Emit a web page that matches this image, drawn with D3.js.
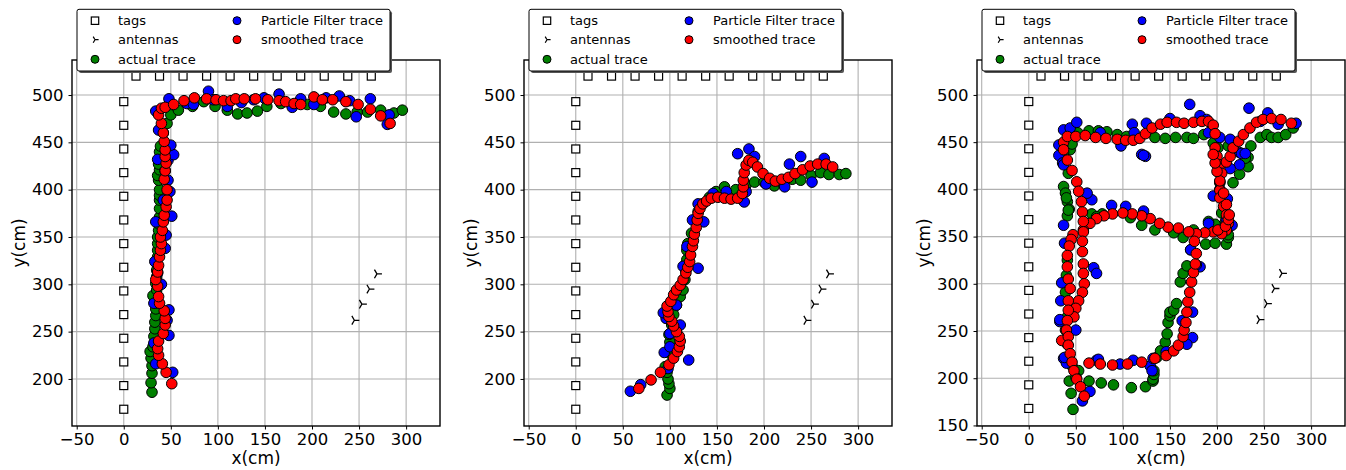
<!DOCTYPE html>
<html>
<head>
<meta charset="utf-8">
<script src="https://cdn.jsdelivr.net/npm/d3@7"></script>
<style>
  body { margin: 0; background: #fff; }
  svg { display: block; }
  text { font-family: "DejaVu Sans", sans-serif; fill: #000; }
</style>
</head>
<body>
<svg id="chart" width="1346" height="470"></svg>
<script>
// tag and antenna positions (cm)
const tagsLeftY = [168, 193, 218, 243, 268, 293, 318, 343, 368, 393, 418, 443, 468, 493];
const tagsTopX = [13, 38, 63, 88, 113, 138, 163, 188, 213, 238, 263];
const tagsTopY = 520;
const antennaX = [245, 253, 261, 269];
const antennaY = [262, 279, 295, 311];

const xTicks = [-50, 0, 50, 100, 150, 200, 250, 300];
const yTicks = [150, 200, 250, 300, 350, 400, 450, 500];

// panel 1
const actual1 = [[30,186],[29,196],[30,206],[30,214],[29,222],[28,229],[31,234],[32,245],[33,253],[33,260],[34,267],[34,274],[35,280],[31,288],[35,294],[34,301],[35,308],[35,315],[35,322],[36,329],[36,336],[36,343],[36,350],[37,357],[37,364],[38,371],[38,380],[38,389],[38,394],[38,400],[37,410],[36,415],[38,421],[37,427],[38,433],[38,440],[39,446],[42,460],[46,470],[50,479],[58,484],[73,488],[85,493],[97,488],[110,484],[121,480],[131,481],[142,483],[152,488],[167,491],[181,490],[195,490],[209,488],[223,482],[236,480],[248,482],[259,482],[273,484],[287,481],[296,484]];
const pf1 = [[52,207],[34,216],[32,238],[48,246],[46,262],[48,273],[32,280],[40,300],[36,312],[33,324],[44,338],[45,352],[34,366],[51,372],[42,389],[49,398],[47,410],[44,420],[47,431],[36,432],[53,437],[50,447],[37,463],[34,483],[48,496],[67,491],[74,490],[90,504],[95,495],[110,488],[125,492],[138,495],[149,497],[165,501],[179,487],[188,496],[202,490],[215,497],[229,499],[240,494],[247,477],[262,496],[280,469],[282,479]];
const smooth1 = [[51,195],[45,207],[41,216],[37,225],[36,232],[37,240],[42,248],[44,257],[44,264],[43,272],[38,280],[37,287],[36,298],[34,305],[36,313],[37,320],[38,329],[39,336],[40,343],[39,350],[41,357],[42,366],[43,373],[45,382],[46,389],[46,400],[43,411],[44,420],[45,428],[44,435],[44,442],[43,451],[42,460],[40,470],[37,479],[40,486],[44,487],[53,490],[64,494],[75,497],[88,496],[98,495],[106,494],[114,494],[119,496],[128,496],[140,496],[153,495],[165,494],[172,493],[181,491],[188,490],[202,498],[211,495],[222,495],[236,493],[249,490],[262,485],[273,478],[283,470]];

// panel 2
const actual2 = [[97,183],[100,190],[99,195],[98,200],[97,207],[95,213],[100,227],[100,239],[99,247],[102,257],[104,268],[107,278],[111,287],[114,294],[116,305],[117,315],[118,326],[118,336],[119,343],[123,354],[126,368],[130,377],[135,385],[142,392],[149,398],[158,403],[170,400],[181,405],[190,408],[200,408],[211,404],[220,406],[230,411],[239,410],[250,415],[260,418],[269,416],[280,416],[287,417]];
const pf2 = [[58,187],[69,194],[94,228],[100,234],[120,220],[98,211],[96,264],[93,270],[111,257],[100,248],[107,278],[114,319],[130,317],[118,340],[124,368],[136,366],[130,385],[146,396],[160,398],[179,387],[181,398],[172,438],[184,443],[190,435],[202,406],[222,403],[227,427],[239,435],[251,408],[264,433]];
const smooth2 = [[67,190],[80,199],[90,207],[99,215],[104,222],[108,229],[110,234],[111,240],[110,245],[107,250],[104,256],[102,261],[99,266],[98,271],[97,277],[101,282],[104,289],[107,294],[111,299],[114,305],[117,312],[119,318],[121,324],[122,331],[124,340],[125,346],[126,353],[128,360],[129,368],[130,375],[132,380],[135,385],[139,388],[144,391],[151,392],[158,391],[165,390],[172,391],[177,396],[178,403],[178,410],[179,418],[181,426],[184,431],[188,429],[193,424],[199,417],[206,412],[212,409],[219,411],[226,413],[233,417],[241,421],[249,425],[257,427],[266,427],[273,424]];

// panel 3
const actual3 = [[47,167],[45,184],[43,197],[64,197],[77,195],[90,193],[109,190],[124,191],[132,197],[132,199],[133,204],[133,208],[136,222],[140,229],[145,238],[147,247],[148,259],[150,266],[150,270],[154,272],[157,279],[161,302],[164,311],[168,319],[172,336],[188,342],[198,343],[210,342],[212,349],[198,363],[191,366],[175,357],[164,349],[154,354],[134,357],[120,362],[108,370],[78,374],[67,374],[72,371],[37,403],[39,396],[41,387],[43,379],[41,372],[44,442],[42,417],[40,391],[42,378],[41,325],[40,309],[39,291],[41,265],[39,251],[41,236],[42,222],[46,213],[53,208],[50,201],[37,439],[46,448],[52,460],[64,462],[74,462],[83,461],[94,458],[104,456],[134,455],[145,454],[156,455],[168,455],[175,454],[186,458],[196,449],[201,444],[212,446],[233,434],[236,446],[246,455],[253,458],[258,455],[265,455],[273,458],[281,465],[203,407],[205,375],[209,366],[212,352],[217,407],[224,416],[233,424],[230,433]];
const pf3 = [[34,437],[36,446],[37,463],[44,465],[51,471],[76,460],[98,446],[110,469],[112,460],[120,437],[124,435],[125,470],[150,475],[171,490],[182,478],[189,474],[191,460],[203,455],[224,439],[234,486],[254,481],[265,469],[284,470],[246,472],[214,453],[32,447],[32,436],[36,428],[226,438],[224,426],[214,422],[88,383],[103,382],[67,389],[62,396],[37,362],[38,343],[210,368],[216,362],[172,336],[191,364],[69,317],[72,311],[35,301],[34,282],[33,260],[50,251],[37,221],[40,216],[57,176],[65,186],[72,219],[97,215],[111,219],[129,213],[132,221],[174,243],[168,236],[163,261],[174,270],[182,318],[196,393],[203,400],[211,390],[178,320],[146,228],[38,222],[33,262],[131,208],[74,220],[37,426],[122,436],[122,377],[230,438]];
const smooth3 = [[37,450],[37,442],[41,456],[50,456],[60,457],[71,455],[82,454],[94,453],[103,452],[111,452],[118,454],[124,459],[131,465],[140,469],[147,471],[157,471],[165,470],[175,471],[184,472],[191,472],[196,468],[198,459],[198,444],[200,435],[203,426],[205,417],[203,408],[203,399],[203,391],[207,382],[210,373],[212,364],[210,357],[205,353],[196,355],[187,354],[178,353],[170,355],[159,359],[148,360],[139,364],[129,369],[120,372],[110,374],[100,375],[89,374],[80,372],[72,369],[65,364],[58,357],[41,431],[46,420],[51,408],[53,398],[56,387],[57,376],[58,366],[58,355],[57,345],[57,334],[58,321],[58,311],[59,300],[57,291],[53,282],[50,274],[48,265],[47,352],[45,347],[43,340],[41,330],[41,318],[42,305],[44,295],[42,282],[42,272],[41,261],[40,251],[35,240],[42,244],[42,235],[44,226],[46,217],[48,208],[51,199],[55,191],[59,181],[64,216],[76,215],[89,214],[105,215],[120,217],[134,221],[146,224],[154,229],[159,235],[164,244],[165,251],[167,259],[168,270],[169,281],[171,291],[173,302],[175,312],[177,321],[178,332],[176,345],[201,357],[209,361],[212,368],[213,373],[210,384],[207,396],[203,409],[200,419],[198,428],[196,437],[210,429],[214,435],[217,444],[223,451],[228,458],[235,465],[242,471],[249,474],[258,475],[268,474],[279,470]];

const legendItems = ["tags", "antennas", "actual trace", "Particle Filter trace", "smoothed trace"];

const panels = [
  { left: 72, actual: actual1, pf: pf1, smoothed: smooth1, yMin: 150.3 },
  { left: 524, actual: actual2, pf: pf2, smoothed: smooth2, yMin: 150.3 },
  { left: 977, actual: actual3, pf: pf3, smoothed: smooth3, yMin: 149.4 }
];

const W = 368, axTop = 60, H = 366;
const svg = d3.select('#chart');

function fmt(d) {
  return d < 0 ? '\u2212' + Math.abs(d) : String(d);
}

// tri_right marker path
function triRight(s) {
  const a = Math.PI * 2 / 3;
  return `M0,0L${s},0M0,0L${s * Math.cos(a)},${-s * Math.sin(a)}M0,0L${s * Math.cos(a)},${s * Math.sin(a)}`;
}

function drawDots(g, data, x, y, color) {
  g.append('g').selectAll('circle')
    .data(data)
    .join('circle')
    .attr('cx', d => x(d[0]))
    .attr('cy', d => y(d[1]))
    .attr('r', 5.3)
    .attr('fill', color)
    .attr('stroke', '#000')
    .attr('stroke-width', 1);
}

panels.forEach(p => {
  const x = d3.scaleLinear().domain([-55, 336]).range([0, W]);
  const y = d3.scaleLinear().domain([p.yMin, 537]).range([H, 0]);
  const g = svg.append('g').attr('transform', `translate(${p.left},${axTop})`);

  const yIn = yTicks.filter(v => v >= p.yMin);

  // grid
  g.append('g').selectAll('line')
    .data(xTicks)
    .join('line')
    .attr('x1', d => x(d)).attr('x2', d => x(d))
    .attr('y1', 0).attr('y2', H)
    .attr('stroke', '#b0b0b0').attr('stroke-width', 1.1);
  g.append('g').selectAll('line')
    .data(yIn)
    .join('line')
    .attr('x1', 0).attr('x2', W)
    .attr('y1', d => y(d)).attr('y2', d => y(d))
    .attr('stroke', '#b0b0b0').attr('stroke-width', 1.1);

  // tags
  const tags = tagsLeftY.map(v => [0, v]).concat(tagsTopX.map(v => [v, tagsTopY]));
  g.append('g').selectAll('rect')
    .data(tags)
    .join('rect')
    .attr('x', d => x(d[0]) - 4).attr('y', d => y(d[1]) - 4)
    .attr('width', 8).attr('height', 8)
    .attr('fill', '#fff').attr('stroke', '#000').attr('stroke-width', 1.2);

  // antennas
  g.append('g').selectAll('path')
    .data(antennaX.map((v, i) => [v, antennaY[i]]))
    .join('path')
    .attr('transform', d => `translate(${x(d[0])},${y(d[1])})`)
    .attr('d', triRight(5))
    .attr('stroke', '#000').attr('stroke-width', 1.3).attr('fill', 'none');

  drawDots(g, p.actual, x, y, '#008000');
  drawDots(g, p.pf, x, y, '#0000ff');
  drawDots(g, p.smoothed, x, y, '#ff0000');

  // spines
  g.append('rect')
    .attr('width', W).attr('height', H)
    .attr('fill', 'none').attr('stroke', '#000').attr('stroke-width', 1.4);

  // axes
  const ax = g.append('g').attr('transform', `translate(0,${H})`)
    .call(d3.axisBottom(x).tickValues(xTicks).tickSize(3.5).tickPadding(3.5).tickFormat(fmt));
  const ay = g.append('g')
    .call(d3.axisLeft(y).tickValues(yIn).tickSize(3.5).tickPadding(5).tickFormat(fmt));
  [ax, ay].forEach(a => {
    a.select('.domain').remove();
    a.selectAll('line').attr('stroke', '#000').attr('stroke-width', 1);
    a.selectAll('text').style('font-size', '16.5px').style('font-family', '"DejaVu Sans", sans-serif').attr('fill', '#000');
  });

  g.append('text')
    .attr('x', W / 2).attr('y', 404)
    .attr('text-anchor', 'middle')
    .style('font-size', '17px')
    .text('x(cm)');
  g.append('text')
    .attr('transform', `translate(${-47.5},${H / 2}) rotate(-90)`)
    .attr('text-anchor', 'middle')
    .style('font-size', '17px')
    .text('y(cm)');

  // legend
  const lx = p.left + 5, ly = 9.3, lw = 313, lh = 61.7;
  const lg = svg.append('g').attr('transform', `translate(${lx},${ly})`);
  lg.append('rect')
    .attr('x', 2).attr('y', 2).attr('width', lw).attr('height', lh).attr('rx', 2)
    .attr('fill', '#555');
  lg.append('rect')
    .attr('width', lw).attr('height', lh).attr('rx', 2)
    .attr('fill', '#fff').attr('stroke', '#000').attr('stroke-width', 1);

  const rows = [11.4, 30.4, 50];
  const pos = [[18, 41, rows[0]], [18, 41, rows[1]], [18, 41, rows[2]], [160, 184, rows[0]], [160, 184, rows[1]]];
  const colors = [null, null, '#008000', '#0000ff', '#ff0000'];
  legendItems.forEach((label, i) => {
    const [mx, tx, ry] = pos[i];
    if (i === 0) {
      lg.append('rect').attr('x', mx - 3.7).attr('y', ry - 3.7).attr('width', 7.4).attr('height', 7.4)
        .attr('fill', '#fff').attr('stroke', '#000').attr('stroke-width', 1.2);
    } else if (i === 1) {
      lg.append('path').attr('transform', `translate(${mx},${ry})`).attr('d', triRight(3.6))
        .attr('stroke', '#000').attr('stroke-width', 1.2).attr('fill', 'none');
    } else {
      lg.append('circle').attr('cx', mx).attr('cy', ry).attr('r', 4)
        .attr('fill', colors[i]).attr('stroke', '#000').attr('stroke-width', 1);
    }
    lg.append('text').attr('x', tx).attr('y', ry + 4.6)
      .style('font-size', '13px')
      .text(label);
  });
});
</script>
</body>
</html>
